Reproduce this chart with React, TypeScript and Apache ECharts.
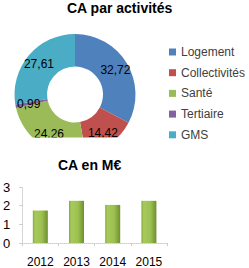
import React, { useEffect, useRef } from "react";
import * as echarts from "echarts";

const activityNames = ["Logement", "Collectivités", "Santé", "Tertiaire", "GMS"];
const activityValues = [32.72, 14.42, 24.26, 0.99, 27.61];
const activityColors = ["#4F81BD", "#C0504D", "#9BBB59", "#8064A2", "#4BACC6"];

const years = ["2012", "2013", "2014", "2015"];
const revenue = [1.74, 2.26, 2.04, 2.26];

const FONT = "'Liberation Sans', Arial, sans-serif";

export default function App() {
  const ref = useRef<HTMLDivElement>(null);
  useEffect(() => {
    if (!ref.current) return;
    const chart = echarts.init(ref.current, undefined, { renderer: "svg" });
    chart.setOption({
      animation: false,
      backgroundColor: "#ffffff",
      textStyle: { fontFamily: FONT },
      title: [
        {
          text: "CA par activités",
          left: 67,
          top: 1,
          padding: 0,
          textStyle: { fontSize: 14, fontWeight: "bold", color: "#000", fontFamily: FONT },
        },
        {
          text: "CA en M€",
          left: 58,
          top: 158,
          padding: 0,
          textStyle: { fontSize: 14, fontWeight: "bold", color: "#000", fontFamily: FONT },
        },
      ],
      legend: {
        orient: "vertical",
        left: 169,
        top: 45,
        padding: 0,
        icon: "rect",
        itemWidth: 7,
        itemHeight: 7,
        itemGap: 6.7,
        data: activityNames,
        textStyle: { fontSize: 12, lineHeight: 14, color: "#404040", fontFamily: FONT },
      },
      grid: { left: 19, top: 187, width: 148, height: 57 },
      xAxis: {
        type: "category",
        data: years,
        axisLine: { lineStyle: { color: "#cccccc", type: "dotted" } },
        axisTick: { show: true, length: 3, lineStyle: { color: "#cccccc" } },
        axisLabel: { fontSize: 12, color: "#000", margin: 13, fontFamily: FONT },
      },
      yAxis: {
        type: "value",
        min: 0,
        max: 3,
        interval: 1,
        splitLine: { show: false },
        axisLine: { show: true, lineStyle: { color: "#cccccc", type: "dotted" } },
        axisTick: { show: true, length: 3, lineStyle: { color: "#cccccc" } },
        axisLabel: { fontSize: 13, color: "#000", margin: 12, fontFamily: FONT },
      },
      series: [
        {
          type: "pie",
          center: [75, 94.5],
          radius: [28, 60.5],
          startAngle: 90,
          clockwise: true,
          avoidLabelOverlap: false,
          label: {
            show: true,
            position: "inside",
            fontSize: 12,
            color: "#000",
            fontFamily: FONT,
            formatter: (p: any) => p.value.toFixed(2).replace(".", ","),
          },
          labelLine: { show: false },
          emphasis: { disabled: true },
          data: activityNames.map((n, i) => ({
            name: n,
            value: activityValues[i],
            itemStyle: { color: activityColors[i] },
          })),
        },
        {
          type: "bar",
          data: revenue,
          barWidth: 15,
          z: 3,
          itemStyle: {
            color: new echarts.graphic.LinearGradient(0, 0, 1, 0, [
              { offset: 0, color: "#86AA38" },
              { offset: 0.15, color: "#A6CA5A" },
              { offset: 0.6, color: "#9DC052" },
              { offset: 1, color: "#6E8F2E" },
            ]),
          },
        },
      ],
      graphic: [
        {
          type: "rect",
          z: 100,
          shape: { x: 0, y: 137.5, width: 160, height: 19 },
          style: { fill: "#ffffff" },
        },
      ],
    });
    return () => chart.dispose();
  }, []);
  return <div ref={ref} style={{ width: 249, height: 268, position: "absolute", left: 0, top: 0 }} />;
}
